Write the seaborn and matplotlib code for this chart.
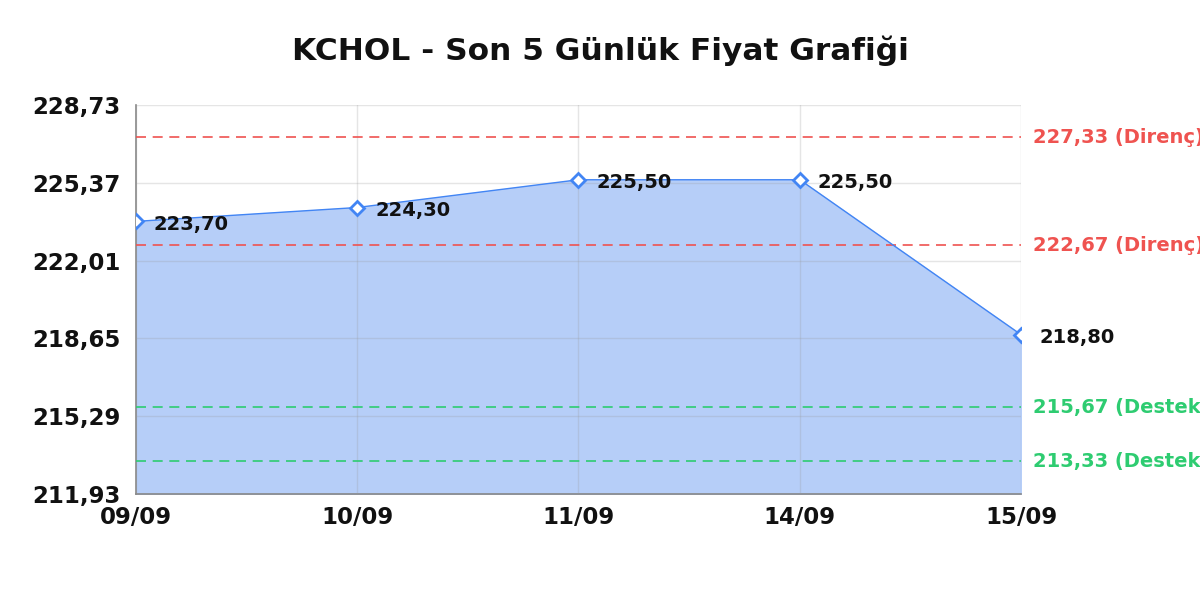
import matplotlib
matplotlib.use("Agg")
import matplotlib.pyplot as plt
import matplotlib.transforms as mtransforms
import numpy as np
import pandas as pd
import seaborn as sns

# chart data
dates = ["09/09", "10/09", "11/09", "14/09", "15/09"]
prices = [223.70, 224.30, 225.50, 225.50, 218.80]
resistance = [227.33, 222.67]
support = [215.67, 213.33]
y_ticks = [211.93, 215.29, 218.65, 222.01, 225.37, 228.73]

sns.set_theme(style="white")
plt.rcParams["font.family"] = ["DejaVu Sans"]

df = pd.DataFrame({"idx": np.arange(len(dates)), "price": prices})

fig = plt.figure(figsize=(12, 6), dpi=100)
ax = fig.add_axes([0.113, 0.177, 0.738, 0.648])

line_color = "#4285f4"
ax.fill_between(df["idx"], df["price"], y_ticks[0], color="#b6cef8", zorder=1)
sns.lineplot(data=df, x="idx", y="price", ax=ax, color=line_color, linewidth=1,
             marker="D", markersize=7, markerfacecolor="white",
             markeredgecolor=line_color, markeredgewidth=2, zorder=4)

# value labels
for i, p in enumerate(prices):
    ax.annotate(f"{p:.2f}".replace(".", ","), (i, p), xytext=(13, -2),
                textcoords="offset points", ha="left", va="center",
                fontsize=14, fontweight="bold", color="#111111", zorder=5)

# support / resistance lines
trans = mtransforms.blended_transform_factory(ax.transAxes, ax.transData)
for lvl in resistance:
    ax.axhline(lvl, color="#ef5350", linestyle=(0, (6, 4)), linewidth=1.2, zorder=3)
    ax.text(1.013, lvl, f"{lvl:.2f} (Direnç)".replace(".", ","), transform=trans,
            color="#ef5350", fontsize=14, fontweight="bold", va="center",
            ha="left", clip_on=False)
for lvl in support:
    ax.axhline(lvl, color="#2ecc71", linestyle=(0, (6, 4)), linewidth=1.2, zorder=3)
    ax.text(1.013, lvl, f"{lvl:.2f} (Destek)".replace(".", ","), transform=trans,
            color="#2ecc71", fontsize=14, fontweight="bold", va="center",
            ha="left", clip_on=False)

ax.set_xlim(0, len(dates) - 1)
ax.set_ylim(y_ticks[0], y_ticks[-1])
ax.set_xticks(range(len(dates)))
ax.set_xticklabels(dates)
ax.set_yticks(y_ticks)
ax.set_yticklabels([f"{t:.2f}".replace(".", ",") for t in y_ticks])
ax.tick_params(axis="x", labelsize=16.5, length=0, pad=9)
ax.tick_params(axis="y", labelsize=16.5, length=0, pad=11)
for lab in ax.get_xticklabels() + ax.get_yticklabels():
    lab.set_fontweight("bold")
    lab.set_color("#111111")

ax.grid(True, color="#999999", alpha=0.25, linewidth=1, zorder=2)
ax.set_axisbelow(False)
for side in ["top", "right"]:
    ax.spines[side].set_visible(False)
for side in ["left", "bottom"]:
    ax.spines[side].set_color("#888888")
    ax.spines[side].set_linewidth(1.2)
ax.set_xlabel("")
ax.set_ylabel("")

fig.text(0.5, 0.9, "KCHOL - Son 5 Günlük Fiyat Grafiği", fontsize=22.5,
         fontweight="bold", ha="center", va="baseline", color="#111111")

fig.savefig("out.png", dpi=100)
